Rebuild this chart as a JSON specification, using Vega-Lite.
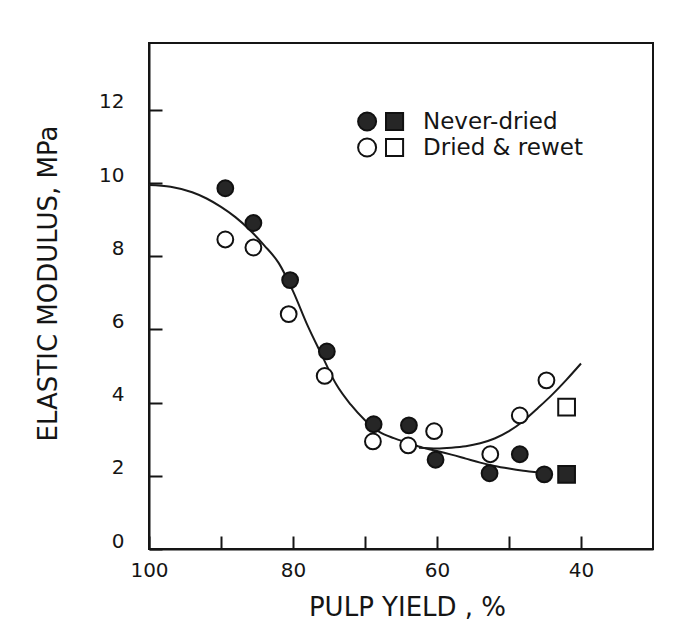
{
  "$schema": "https://vega.github.io/schema/vega-lite/v6.json",
  "width": 504,
  "height": 506,
  "autosize": {"type": "none"},
  "padding": {"left": 149, "top": 43, "right": 27, "bottom": 87},
  "background": "white",
  "config": {
    "view": {"stroke": "#151515", "strokeWidth": 2},
    "font": "DejaVu Sans",
    "axis": {
      "grid": false,
      "domainColor": "#151515",
      "domainWidth": 2,
      "tickColor": "#151515",
      "tickWidth": 2,
      "labelColor": "#151515",
      "titleColor": "#151515",
      "labelFont": "DejaVu Sans",
      "titleFont": "DejaVu Sans",
      "labelFontSize": 20,
      "labelFlush": false,
      "titleFontWeight": "normal"
    }
  },
  "datasets": {
    "points": [
      {"yield": 89.4, "modulus": 9.86, "treatment": "Never-dried", "marker": "circle"},
      {"yield": 85.5, "modulus": 8.91, "treatment": "Never-dried", "marker": "circle"},
      {"yield": 80.4, "modulus": 7.35, "treatment": "Never-dried", "marker": "circle"},
      {"yield": 75.3, "modulus": 5.40, "treatment": "Never-dried", "marker": "circle"},
      {"yield": 68.8, "modulus": 3.41, "treatment": "Never-dried", "marker": "circle"},
      {"yield": 63.9, "modulus": 3.38, "treatment": "Never-dried", "marker": "circle"},
      {"yield": 60.2, "modulus": 2.44, "treatment": "Never-dried", "marker": "circle"},
      {"yield": 52.7, "modulus": 2.07, "treatment": "Never-dried", "marker": "circle"},
      {"yield": 48.5, "modulus": 2.59, "treatment": "Never-dried", "marker": "circle"},
      {"yield": 45.1, "modulus": 2.04, "treatment": "Never-dried", "marker": "circle"},
      {"yield": 42.0, "modulus": 2.04, "treatment": "Never-dried", "marker": "square"},
      {"yield": 89.4, "modulus": 8.46, "treatment": "Dried & rewet", "marker": "circle"},
      {"yield": 85.5, "modulus": 8.24, "treatment": "Dried & rewet", "marker": "circle"},
      {"yield": 80.6, "modulus": 6.42, "treatment": "Dried & rewet", "marker": "circle"},
      {"yield": 75.6, "modulus": 4.73, "treatment": "Dried & rewet", "marker": "circle"},
      {"yield": 68.9, "modulus": 2.94, "treatment": "Dried & rewet", "marker": "circle"},
      {"yield": 64.0, "modulus": 2.83, "treatment": "Dried & rewet", "marker": "circle"},
      {"yield": 60.4, "modulus": 3.22, "treatment": "Dried & rewet", "marker": "circle"},
      {"yield": 52.6, "modulus": 2.59, "treatment": "Dried & rewet", "marker": "circle"},
      {"yield": 48.5, "modulus": 3.65, "treatment": "Dried & rewet", "marker": "circle"},
      {"yield": 44.8, "modulus": 4.61, "treatment": "Dried & rewet", "marker": "circle"},
      {"yield": 42.0, "modulus": 3.88, "treatment": "Dried & rewet", "marker": "square"}
    ],
    "curves": [
      {"yield": 100, "modulus": 9.95, "curve": "never-dried"},
      {"yield": 97, "modulus": 9.9, "curve": "never-dried"},
      {"yield": 94, "modulus": 9.75, "curve": "never-dried"},
      {"yield": 92, "modulus": 9.58, "curve": "never-dried"},
      {"yield": 90, "modulus": 9.35, "curve": "never-dried"},
      {"yield": 88, "modulus": 9.07, "curve": "never-dried"},
      {"yield": 86, "modulus": 8.72, "curve": "never-dried"},
      {"yield": 84, "modulus": 8.3, "curve": "never-dried"},
      {"yield": 82, "modulus": 7.82, "curve": "never-dried"},
      {"yield": 80, "modulus": 7.05, "curve": "never-dried"},
      {"yield": 78, "modulus": 6.12, "curve": "never-dried"},
      {"yield": 76, "modulus": 5.3, "curve": "never-dried"},
      {"yield": 74, "modulus": 4.5, "curve": "never-dried"},
      {"yield": 72, "modulus": 3.95, "curve": "never-dried"},
      {"yield": 70, "modulus": 3.52, "curve": "never-dried"},
      {"yield": 68, "modulus": 3.2, "curve": "never-dried"},
      {"yield": 66, "modulus": 3.03, "curve": "never-dried"},
      {"yield": 64, "modulus": 2.9, "curve": "never-dried"},
      {"yield": 62, "modulus": 2.77, "curve": "never-dried"},
      {"yield": 60, "modulus": 2.68, "curve": "never-dried"},
      {"yield": 58, "modulus": 2.58, "curve": "never-dried"},
      {"yield": 56, "modulus": 2.47, "curve": "never-dried"},
      {"yield": 54, "modulus": 2.36, "curve": "never-dried"},
      {"yield": 52, "modulus": 2.27, "curve": "never-dried"},
      {"yield": 50, "modulus": 2.2, "curve": "never-dried"},
      {"yield": 48, "modulus": 2.14, "curve": "never-dried"},
      {"yield": 46, "modulus": 2.09, "curve": "never-dried"},
      {"yield": 45.2, "modulus": 2.06, "curve": "never-dried"},
      {"yield": 62.5, "modulus": 2.77, "curve": "rewet"},
      {"yield": 60, "modulus": 2.75, "curve": "rewet"},
      {"yield": 58, "modulus": 2.77, "curve": "rewet"},
      {"yield": 56, "modulus": 2.81, "curve": "rewet"},
      {"yield": 54, "modulus": 2.89, "curve": "rewet"},
      {"yield": 52, "modulus": 3.02, "curve": "rewet"},
      {"yield": 50, "modulus": 3.22, "curve": "rewet"},
      {"yield": 48, "modulus": 3.5, "curve": "rewet"},
      {"yield": 46, "modulus": 3.85, "curve": "rewet"},
      {"yield": 44, "modulus": 4.22, "curve": "rewet"},
      {"yield": 42, "modulus": 4.63, "curve": "rewet"},
      {"yield": 40, "modulus": 5.07, "curve": "rewet"}
    ]
  },
  "layer": [
    {
      "data": {"name": "curves"},
      "mark": {"type": "line", "interpolate": "monotone", "color": "#1a1a1a", "strokeWidth": 2},
      "encoding": {
        "x": {
          "field": "yield",
          "type": "quantitative",
          "scale": {"domain": [30, 100], "reverse": true, "nice": false, "zero": false},
          "axis": {
            "values": [100, 90, 80, 70, 60, 50, 40],
            "labelExpr": "datum.value % 20 === 0 ? datum.label : ''",
            "tickSize": -13,
            "labelPadding": 24,
            "title": "PULP YIELD , %",
            "titleFontSize": 26,
            "titleX": 258,
            "titleY": 58,
            "titleAlign": "center",
            "titleBaseline": "middle"
          }
        },
        "y": {
          "field": "modulus",
          "type": "quantitative",
          "scale": {"domain": [0, 13.83], "nice": false, "zero": true},
          "axis": {
            "values": [0, 2, 4, 6, 8, 10, 12],
            "tickSize": -13,
            "labelPadding": 38,
            "labelOffset": -8,
            "title": "ELASTIC MODULUS, MPa",
            "titleFontSize": 26,
            "titleAngle": -90,
            "titleX": -101,
            "titleY": 240,
            "titleAlign": "center",
            "titleBaseline": "middle"
          }
        },
        "detail": {"field": "curve", "type": "nominal"}
      }
    },
    {
      "data": {"name": "points"},
      "mark": {"type": "point", "filled": true, "stroke": "#111111", "strokeWidth": 2, "opacity": 1},
      "encoding": {
        "x": {"field": "yield", "type": "quantitative"},
        "y": {"field": "modulus", "type": "quantitative"},
        "fill": {
          "field": "treatment",
          "type": "nominal",
          "scale": {"domain": ["Never-dried", "Dried & rewet"], "range": ["#262626", "#ffffff"]},
          "legend": {
            "orient": "none",
            "legendX": 221,
            "legendY": 67,
            "title": null,
            "padding": 0,
            "symbolType": "M-2.6,0 A1,1 0 1,0 -0.6,0 A1,1 0 1,0 -2.6,0 Z M0.5,-0.95 L2.4,-0.95 L2.4,0.95 L0.5,0.95 Z",
            "symbolSize": 324,
            "symbolStrokeColor": "#111111",
            "symbolStrokeWidth": 2,
            "symbolOpacity": 1,
            "labelFontSize": 23,
            "labelFont": "DejaVu Sans",
            "labelColor": "#151515",
            "labelOffset": 30,
            "rowPadding": -1
          }
        },
        "shape": {
          "field": "marker",
          "type": "nominal",
          "scale": {"domain": ["circle", "square"], "range": ["circle", "square"]},
          "legend": null
        },
        "size": {
          "field": "marker",
          "type": "nominal",
          "scale": {"domain": ["circle", "square"], "range": [250, 280]},
          "legend": null
        }
      }
    }
  ]
}
